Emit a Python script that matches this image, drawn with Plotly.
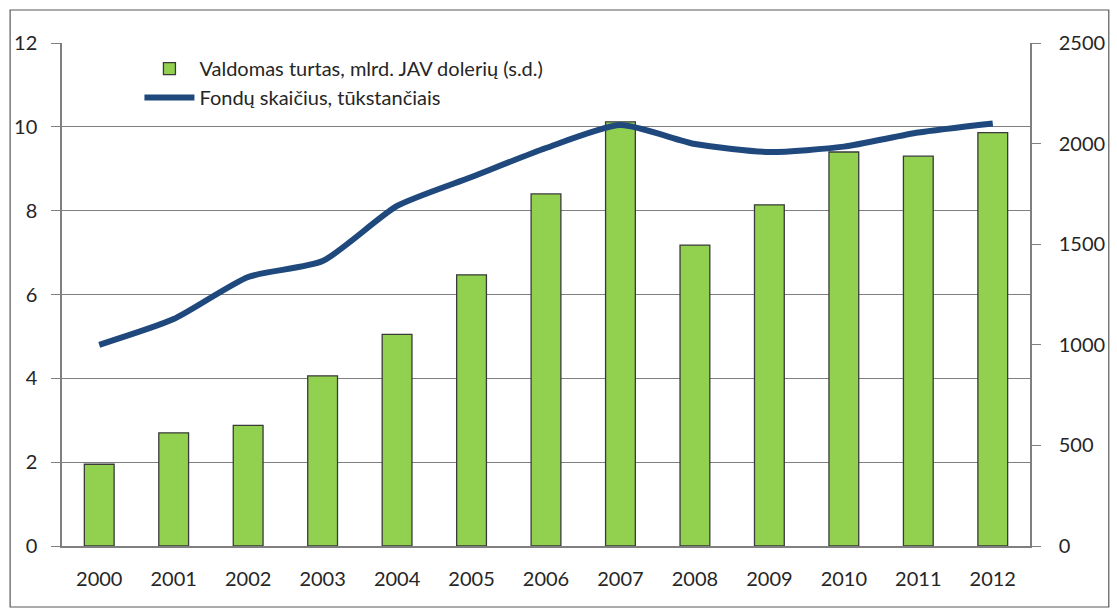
import plotly.graph_objects as go

years = ["2000", "2001", "2002", "2003", "2004", "2005", "2006",
         "2007", "2008", "2009", "2010", "2011", "2012"]
assets = [1.95, 2.70, 2.88, 4.06, 5.05, 6.47, 8.40, 10.12, 7.18, 8.14, 9.40, 9.30, 9.86]
funds = [1000, 1128, 1337, 1416, 1690, 1834, 1978, 2092, 1998, 1958, 1985, 2055, 2100]

left_ticks = [0, 2, 4, 6, 8, 10, 12]
right_ticks = [0, 500, 1000, 1500, 2000, 2500]

FONT = "Lato, Carlito, 'Open Sans', sans-serif"
AXIS_COLOR = "#7f7f7f"

fig = go.Figure()
fig.add_trace(go.Bar(
    x=years, y=assets, name="Valdomas turtas, mlrd. JAV dolerių (s.d.)",
    marker=dict(color="#92D050", line=dict(color="#3a3a3a", width=1.3)),
    yaxis="y",
))
fig.add_trace(go.Scatter(
    x=years, y=funds, name="Fondų skaičius, tūkstančiais",
    mode="lines", line=dict(color="#1F497D", width=6, shape="spline", smoothing=0.6),
    yaxis="y2",
))

fig.update_layout(
    width=1117, height=612,
    margin=dict(l=62, r=84, t=43, b=66),
    paper_bgcolor="white", plot_bgcolor="white",
    font=dict(family=FONT, size=20, color="#262626"),
    bargap=0.6,
    showlegend=True,
    legend=dict(x=0.08, y=0.988, xanchor="left", yanchor="top",
                bgcolor="rgba(0,0,0,0)", font=dict(size=20, color="#262626"),
                itemwidth=50),
    xaxis=dict(type="category", showgrid=False, showline=True, linecolor=AXIS_COLOR,
               linewidth=1.5, ticks="", ticklabelstandoff=14,
               tickfont=dict(size=20), mirror=False),
    yaxis=dict(range=[0, 12], tickvals=left_ticks, showgrid=True, gridcolor=AXIS_COLOR,
               gridwidth=1.2, showline=True, linecolor=AXIS_COLOR, linewidth=1.5,
               ticks="outside", ticklen=9, tickcolor=AXIS_COLOR, ticklabelstandoff=10,
               zeroline=False, tickfont=dict(size=20)),
    yaxis2=dict(range=[0, 2500], tickvals=right_ticks, overlaying="y", side="right",
                showgrid=False, showline=True, linecolor=AXIS_COLOR, linewidth=1.5,
                ticks="outside", ticklen=9, tickcolor=AXIS_COLOR, ticklabelstandoff=14,
                zeroline=False, tickfont=dict(size=20)),
    shapes=[dict(type="rect", xref="paper", yref="paper",
                 x0=-0.0536, x1=1.0814, y0=-0.1213, y1=1.0656,
                 line=dict(color="#595959", width=1.2), fillcolor="rgba(0,0,0,0)",
                 layer="above")],
)

fig.write_html("out.html", config={"displayModeBar": False})

with open("out.html", "r", encoding="utf-8") as f:
    html = f.read()
html = html.replace("<head>", "<head><style>html,body{margin:0;padding:0;overflow:hidden;}</style>", 1)
with open("out.html", "w", encoding="utf-8") as f:
    f.write(html)
